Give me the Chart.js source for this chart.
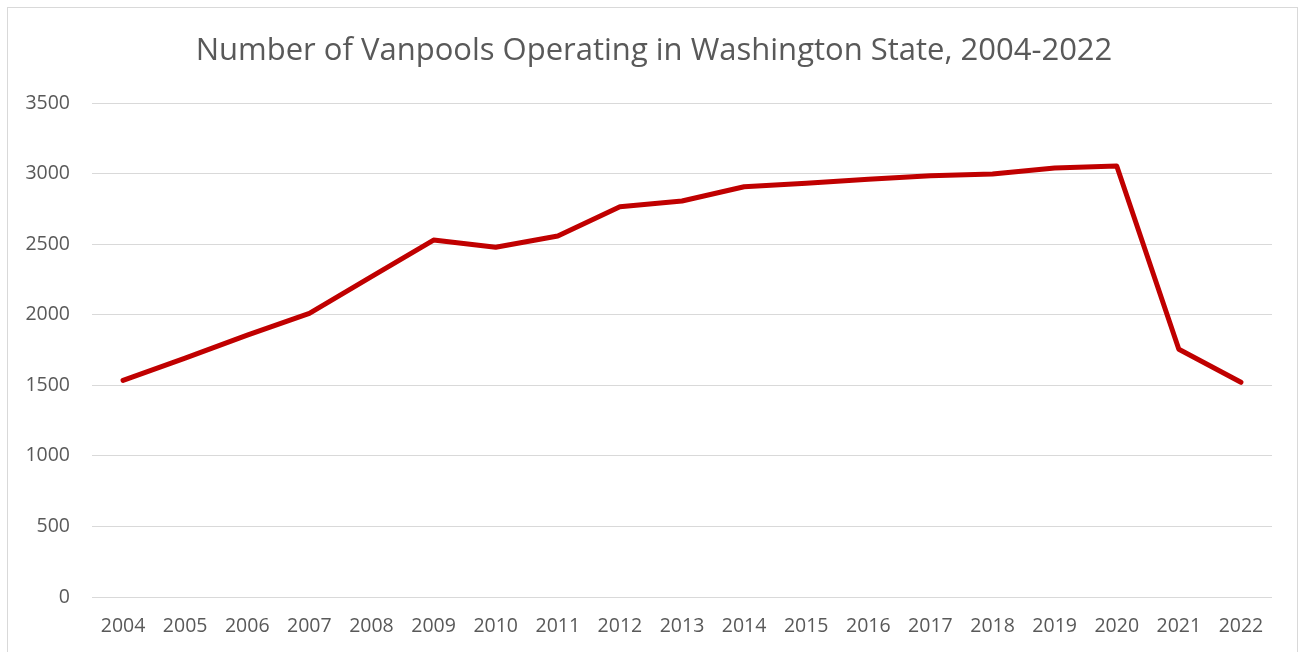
<!DOCTYPE html>
<html>
<head>
<meta charset="utf-8">
<script src="https://cdn.jsdelivr.net/npm/chart.js@4.4.1/dist/chart.umd.min.js"></script>
<style>
  html, body { margin: 0; padding: 0; background: #ffffff; }
  #wrap { position: relative; width: 1303px; height: 652px; }
</style>
</head>
<body>
<div id="wrap"><canvas id="c" width="1303" height="652"></canvas></div>
<script>
const titleText = "Number of Vanpools Operating in Washington State, 2004-2022";
const years = ["2004","2005","2006","2007","2008","2009","2010","2011","2012","2013","2014","2015","2016","2017","2018","2019","2020","2021","2022"];
const vanpools = [1535, 1692, 1856, 2010, 2270, 2529, 2478, 2558, 2765, 2806, 2907, 2931, 2959, 2985, 2997, 3039, 3054, 1755, 1521];
const yTicks = [0, 500, 1000, 1500, 2000, 2500, 3000, 3500];

const frameAndTitle = {
  id: 'frameAndTitle',
  beforeDraw(chart) {
    const ctx = chart.ctx;
    ctx.save();
    ctx.fillStyle = '#ffffff';
    ctx.fillRect(0, 0, chart.width, chart.height);
    ctx.strokeStyle = '#d9d9d9';
    ctx.lineWidth = 1;
    ctx.strokeRect(7.5, 7.5, 1290, 700);
    ctx.restore();
  },
  afterDraw(chart) {
    const ctx = chart.ctx;
    ctx.save();
    ctx.fillStyle = '#595959';
    ctx.font = '31px "Open Sans"';
    ctx.textAlign = 'center';
    ctx.textBaseline = 'middle';
    ctx.fillText(titleText, 654, 51.6);
    ctx.restore();
  }
};

new Chart(document.getElementById('c'), {
  type: 'line',
  data: {
    labels: years,
    datasets: [{
      data: vanpools,
      borderColor: '#C00000',
      borderWidth: 5,
      pointRadius: 0,
      pointHoverRadius: 0,
      fill: false,
      tension: 0,
      borderJoinStyle: 'round',
      borderCapStyle: 'round'
    }]
  },
  options: {
    responsive: false,
    animation: false,
    events: [],
    layout: { padding: { left: 0, right: 31, top: 103, bottom: 0 } },
    plugins: {
      legend: { display: false },
      tooltip: { enabled: false },
      title: { display: false }
    },
    scales: {
      x: {
        offset: true,
        afterFit(axis) { axis.height = 55; },
        grid: { display: false, drawTicks: false },
        border: { display: false },
        ticks: {
          color: '#595959',
          font: { family: 'Open Sans', size: 19.5 },
          padding: 18,
          maxRotation: 0,
          autoSkip: false
        }
      },
      y: {
        min: 0,
        max: 3500,
        afterBuildTicks(axis) { axis.ticks = yTicks.map(v => ({ value: v })); },
        afterFit(axis) { axis.width = 92; },
        grid: { color: '#d9d9d9', lineWidth: 1, drawTicks: false },
        border: { display: false },
        ticks: {
          color: '#595959',
          font: { family: 'Open Sans', size: 19.5 },
          padding: 22,
          callback: (v) => String(v)
        }
      }
    }
  },
  plugins: [frameAndTitle]
});
</script>
</body>
</html>
